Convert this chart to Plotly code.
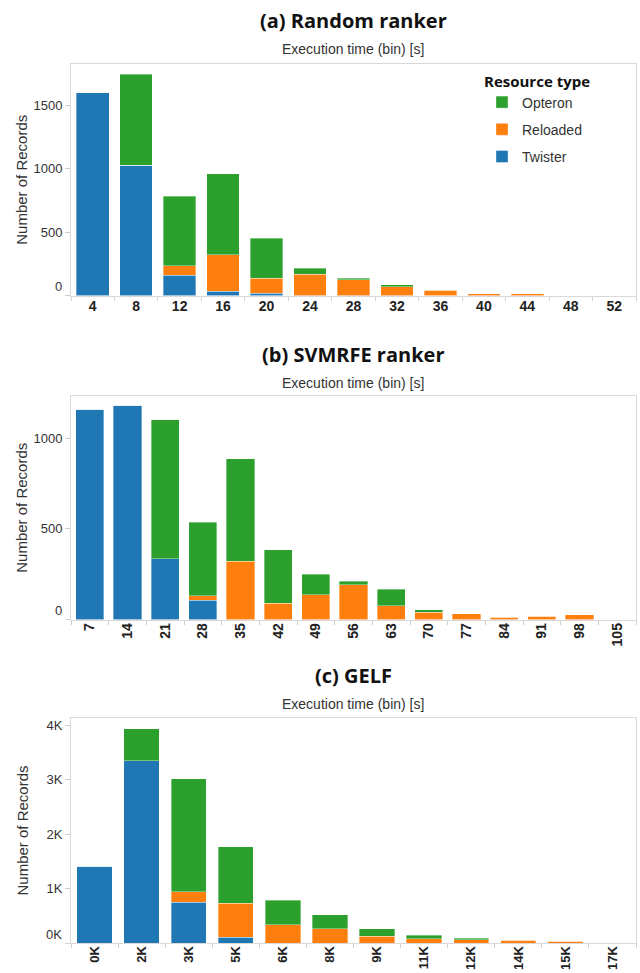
import plotly.graph_objects as go

# ---------------- data ----------------
cats_a = ["4", "8", "12", "16", "20", "24", "28", "32", "36", "40", "44", "48", "52"]
twister_a = [1600, 1030, 160, 35, 17, 0, 0, 0, 0, 0, 0, 0, 0]
reloaded_a = [0, 0, 76, 285, 118, 167, 125, 70, 43, 15, 15, 0, 0]
opteron_a = [0, 718, 547, 642, 317, 50, 11, 13, 0, 0, 0, 0, 0]

cats_b = ["7", "14", "21", "28", "35", "42", "49", "56", "63", "70", "77", "84", "91", "98", "105"]
twister_b = [1160, 1180, 335, 105, 0, 0, 0, 0, 0, 0, 0, 0, 0, 0, 0]
reloaded_b = [0, 0, 0, 25, 320, 90, 137, 192, 75, 40, 31, 13, 18, 26, 0]
opteron_b = [0, 0, 765, 405, 565, 295, 112, 18, 93, 13, 0, 0, 0, 0, 0]

cats_c = ["0K", "2K", "3K", "5K", "6K", "8K", "9K", "11K", "12K", "14K", "15K", "17K"]
twister_c = [1415, 3355, 750, 110, 0, 0, 0, 0, 0, 0, 0, 0]
reloaded_c = [0, 0, 195, 620, 340, 260, 120, 80, 57, 48, 30, 0]
opteron_c = [0, 590, 2080, 1040, 450, 258, 140, 64, 27, 0, 0, 0]

panel_titles = ["(a) Random ranker", "(b) SVMRFE ranker", "(c) GELF"]
x_title = "Execution time (bin) [s]"
y_title = "Number of Records"

yticks_a = [0, 500, 1000, 1500]
yticks_b = [0, 500, 1000]
yticks_c = [0, 1000, 2000, 3000, 4000]
yticktext_c = ["0K", "1K", "2K", "3K", "4K"]

series_names = ["Twister", "Reloaded", "Opteron"]
colors = {"Twister": "#1f77b4", "Reloaded": "#ff7f0e", "Opteron": "#2ca02c"}
ranks = {"Opteron": 1, "Reloaded": 2, "Twister": 3}

# ---------------- layout helpers ----------------
W, H = 640, 973
def px(x):
    return x / W
def py(y):
    return 1 - y / H

FONT = "Liberation Sans, Arial, sans-serif"
TFONT = "Open Sans, Liberation Sans, sans-serif"

panels = [
    dict(cats=cats_a, data=[twister_a, reloaded_a, opteron_a], top=64, bottom=295.5,
         ymax=1828, yt=yticks_a, ytt=[str(v) for v in yticks_a], angle=0,
         title_y=20, sub_y=49, xfs=14, standoff=-2),
    dict(cats=cats_b, data=[twister_b, reloaded_b, opteron_b], top=396, bottom=619.5,
         ymax=1232, yt=yticks_b, ytt=[str(v) for v in yticks_b], angle=-90,
         title_y=354, sub_y=383, xfs=14, standoff=-3),
    dict(cats=cats_c, data=[twister_c, reloaded_c, opteron_c], top=718, bottom=943,
         ymax=4139, yt=yticks_c, ytt=yticktext_c, angle=-90,
         title_y=675, sub_y=704, xfs=13, standoff=-3),
]

fig = go.Figure()
annotations = []
LEFT, RIGHT = 71, 636
for i, p in enumerate(panels):
    sfx = "" if i == 0 else str(i + 1)
    xa, ya = "x" + sfx, "y" + sfx
    for name, vals in zip(series_names, p["data"]):
        fig.add_trace(go.Bar(
            x=p["cats"], y=vals, name=name, xaxis=xa, yaxis=ya,
            marker=dict(color=colors[name], line=dict(color="rgba(255,255,255,0.45)", width=0.8)),
            width=0.75, showlegend=(i == 0), legendrank=ranks[name],
            legendgroup=name,
        ))
    tt = list(p["ytt"])
    zero_label = tt[0]
    tt[0] = ""
    fig.update_layout(**{
        "xaxis" + sfx: dict(
            domain=[px(LEFT), px(RIGHT)], anchor=ya, type="category",
            categoryorder="array", categoryarray=p["cats"],
            showline=True, mirror=True, linecolor="#d9d9d9", linewidth=1,
            ticks="outside", tickson="boundaries", ticklen=4, tickcolor="#d0d0d0",
            tickangle=p["angle"], showgrid=False, zeroline=False,
            ticklabelstandoff=p["standoff"],
            tickfont=dict(family=FONT, size=p["xfs"], color="#222222", weight="bold"),
        ),
        "yaxis" + sfx: dict(
            domain=[py(p["bottom"]), py(p["top"])], anchor=xa,
            range=[0, p["ymax"]], tickvals=p["yt"], ticktext=tt,
            showline=True, mirror=True, linecolor="#d9d9d9", linewidth=1,
            ticks="outside", ticklen=5, tickcolor="#d0d0d0",
            showgrid=False, zeroline=False,
            tickfont=dict(family=FONT, size=13, color="#333333"),
        ),
    })
    # zero label placed slightly above the baseline
    annotations.append(dict(
        text=zero_label, x=px(64), xref="paper", xanchor="right",
        y=0, yref=ya, yanchor="middle", yshift=9, showarrow=False,
        font=dict(family=FONT, size=13, color="#333333"),
    ))
    annotations.append(dict(
        text="<b>" + panel_titles[i] + "</b>", x=px(353), y=py(p["title_y"]),
        xref="paper", yref="paper", xanchor="center", yanchor="middle",
        showarrow=False, font=dict(family=TFONT, size=20, color="#111111"),
    ))
    annotations.append(dict(
        text=x_title, x=px(353), y=py(p["sub_y"]),
        xref="paper", yref="paper", xanchor="center", yanchor="middle",
        showarrow=False, font=dict(family=FONT, size=14, color="#333333"),
    ))
    annotations.append(dict(
        text=y_title, x=px(22), y=py((p["top"] + p["bottom"]) / 2),
        xref="paper", yref="paper", xanchor="center", yanchor="middle",
        textangle=-90, showarrow=False,
        font=dict(family=FONT, size=15, color="#333333"),
    ))

fig.update_layout(
    width=W, height=H, barmode="stack",
    margin=dict(l=0, r=0, t=0, b=0, autoexpand=False),
    paper_bgcolor="white", plot_bgcolor="white",
    annotations=annotations,
    legend=dict(
        x=px(482), y=py(67), xanchor="left", yanchor="top",
        xref="paper", yref="paper",
        title=dict(text="<b>Resource type</b>", font=dict(family=TFONT, size=15, color="#111111")),
        font=dict(family=FONT, size=14, color="#333333"),
        bgcolor="rgba(0,0,0,0)", tracegroupgap=6, itemwidth=30,
    ),
)

fig.write_html(
    "out.html",
    config={"displayModeBar": False},
    post_script="document.body.style.margin='0';document.body.style.padding='0';",
)
